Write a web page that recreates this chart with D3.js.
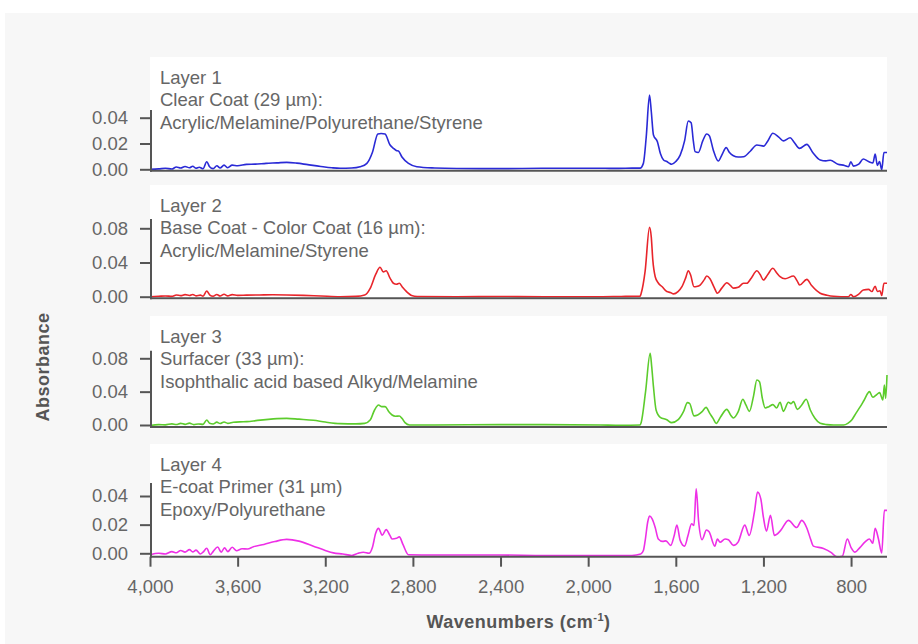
<!DOCTYPE html>
<html><head><meta charset="utf-8">
<script src="https://cdn.jsdelivr.net/npm/d3@7"></script>
<style>
html,body{margin:0;padding:0;background:#fff;}
svg{display:block;}
text{font-family:"Liberation Sans",Arial,sans-serif;}
</style></head>
<body>
<svg id="chart" width="918" height="644"></svg>
<script>
// ---- data ----
const xTicks = [4000, 3600, 3200, 2800, 2400, 2000, 1600, 1200, 800];
const layerTitles = ["Layer 1", "Layer 2", "Layer 3", "Layer 4"];
const layerCoats = ["Clear Coat (29 µm):", "Base Coat - Color Coat (16 µm):", "Surfacer (33 µm):", "E-coat Primer (31 µm)"];
const layerResins = ["Acrylic/Melamine/Polyurethane/Styrene", "Acrylic/Melamine/Styrene", "Isophthalic acid based Alkyd/Melamine", "Epoxy/Polyurethane"];
const yTicks1 = [0, 0.02, 0.04];
const yTicks2 = [0, 0.04, 0.08];
const yTicks3 = [0, 0.04, 0.08];
const yTicks4 = [0, 0.02, 0.04];

const layer1 = [[4000,0],[3960,0.0003],[3930,0.0008],[3900,0.0002],[3880,0.0018],[3860,0.001],[3840,0.0022],[3820,0.0012],[3805,0.0024],[3790,0.0008],[3775,0.0016],[3758,0.0004],[3741,0.0059],[3728,0.002],[3712,0.0005],[3695,0.0028],[3680,0.001],[3662,0.0032],[3645,0.0012],[3625,0.0032],[3600,0.0028],[3560,0.0038],[3520,0.004],[3470,0.0046],[3420,0.005],[3376,0.0054],[3330,0.0048],[3280,0.0036],[3220,0.0022],[3170,0.0012],[3132,0.0008],[3080,0.001],[3041,0.002],[3010,0.0046],[2985,0.013],[2960,0.0274],[2945,0.0278],[2927,0.0274],[2905,0.019],[2889,0.0163],[2876,0.0146],[2866,0.0142],[2850,0.0095],[2820,0.0046],[2782,0.002],[2700,0.001],[2600,0.0006],[2402,0.0005],[2200,0.0008],[1945,0.0008],[1860,0.0007],[1800,0.0009],[1763,0.0009],[1748,0.0046],[1735,0.025],[1720,0.0576],[1712,0.045],[1702,0.0266],[1684,0.0214],[1670,0.012],[1656,0.0072],[1641,0.006],[1630,0.0048],[1619,0.0039],[1600,0.006],[1580,0.011],[1560,0.022],[1543,0.0374],[1530,0.036],[1520,0.022],[1512,0.0137],[1497,0.013],[1477,0.022],[1459,0.0274],[1447,0.026],[1429,0.015],[1406,0.0064],[1390,0.011],[1370,0.0168],[1355,0.013],[1337,0.0105],[1315,0.0095],[1291,0.0097],[1260,0.014],[1230,0.0188],[1199,0.018],[1180,0.022],[1157,0.0279],[1130,0.025],[1109,0.022],[1078,0.0245],[1060,0.021],[1035,0.0162],[1002,0.0193],[975,0.013],[941,0.0072],[915,0.0065],[895,0.007],[860,0.004],[830,0.003],[812,0.002],[801,0.0058],[789,0.0025],[765,0.004],[744,0.008],[720,0.006],[700,0.005],[690,0.0118],[680,0.003],[670,0.006],[660,-0.0004],[650,0.013],[636,0.013]];

const layer2 = [[4000,0],[3960,0.0005],[3930,0.0009],[3900,0.0004],[3880,0.002],[3860,0.0012],[3840,0.0024],[3820,0.0014],[3805,0.0026],[3790,0.001],[3770,0.0018],[3758,0.0006],[3741,0.0067],[3728,0.0022],[3712,0.0006],[3695,0.0026],[3680,0.0008],[3662,0.0028],[3645,0.001],[3625,0.0024],[3600,0.0016],[3560,0.0018],[3500,0.002],[3440,0.0022],[3376,0.002],[3300,0.0015],[3220,0.0008],[3132,0],[3060,0.0004],[3020,0.002],[2995,0.0098],[2970,0.026],[2950,0.0344],[2935,0.029],[2922,0.0304],[2905,0.022],[2889,0.0157],[2875,0.0145],[2862,0.0157],[2850,0.012],[2836,0.0078],[2806,0.0014],[2780,0.0003],[2600,0],[2400,0.0002],[2200,0],[1945,0],[1850,0.0003],[1763,0.0005],[1758,0.004],[1740,0.03],[1720,0.0811],[1712,0.07],[1705,0.043],[1694,0.0234],[1680,0.016],[1662,0.0117],[1641,0.006],[1625,0.005],[1610,0.0033],[1590,0.006],[1572,0.0117],[1555,0.022],[1543,0.0304],[1532,0.025],[1517,0.0117],[1505,0.012],[1489,0.0136],[1470,0.02],[1459,0.0242],[1444,0.021],[1425,0.011],[1410,0.004],[1390,0.01],[1367,0.0164],[1350,0.013],[1337,0.01],[1315,0.011],[1291,0.0157],[1276,0.0157],[1255,0.022],[1230,0.0304],[1215,0.026],[1200,0.0195],[1180,0.026],[1157,0.0332],[1140,0.028],[1124,0.0234],[1101,0.021],[1063,0.0242],[1045,0.018],[1035,0.0136],[1002,0.0203],[980,0.013],[941,0.004],[910,0.0018],[880,0.0006],[812,0],[801,0.0025],[789,0],[765,0.003],[744,0.0079],[720,0.0086],[705,0.006],[690,0.0123],[680,0.006],[668,0.007],[660,0.0014],[650,0.0157],[636,0.0157]];

const layer3 = [[4000,-0.0005],[3960,0.0005],[3930,0.0002],[3900,0.0014],[3880,0.0006],[3860,0.002],[3840,0.0008],[3820,0.0022],[3800,0.0005],[3780,0.0012],[3758,0.0008],[3741,0.006],[3728,0.002],[3712,0.0012],[3695,0.0034],[3680,0.0018],[3662,0.0036],[3645,0.002],[3620,0.0032],[3590,0.0038],[3558,0.004],[3510,0.0055],[3460,0.0068],[3420,0.0076],[3376,0.008],[3320,0.007],[3254,0.0057],[3200,0.0035],[3132,0.0016],[3060,0.0014],[3020,0.002],[2995,0.006],[2975,0.018],[2957,0.024],[2942,0.022],[2927,0.022],[2910,0.016],[2895,0.012],[2880,0.0105],[2862,0.0108],[2850,0.008],[2836,0.0028],[2815,0],[2700,0],[2400,0.0005],[2200,0.0005],[1945,0],[1850,-0.0004],[1763,0],[1758,0.003],[1738,0.04],[1717,0.086],[1710,0.07],[1702,0.046],[1690,0.018],[1671,0.0092],[1641,0.0064],[1619,0.0028],[1589,0.0064],[1565,0.016],[1547,0.0268],[1537,0.026],[1517,0.011],[1500,0.012],[1480,0.016],[1462,0.0212],[1445,0.014],[1430,0.008],[1416,0.002],[1395,0.01],[1367,0.0188],[1350,0.012],[1337,0.0084],[1315,0.016],[1294,0.0308],[1280,0.024],[1264,0.0164],[1245,0.035],[1230,0.054],[1218,0.052],[1205,0.032],[1192,0.0204],[1175,0.022],[1157,0.0244],[1140,0.0204],[1124,0.0272],[1109,0.0164],[1086,0.0272],[1075,0.0256],[1063,0.028],[1045,0.0188],[1025,0.024],[1005,0.0308],[986,0.018],[965,0.008],[941,0.002],[910,0.0005],[880,0],[834,0],[815,0.002],[796,0.0064],[778,0.014],[758,0.022],[740,0.03],[716,0.04],[701,0.0332],[685,0.036],[670,0.0388],[655,0.03],[648,0.048],[642,0.032],[636,0.06]];

const layer4 = [[4000,-0.001],[3960,0],[3930,-0.0005],[3900,0.0012],[3880,0.0004],[3860,0.002],[3840,0.0008],[3820,0.0026],[3805,0.001],[3790,0.0022],[3770,-0.0005],[3758,0.0008],[3741,0.0035],[3725,-0.001],[3712,0.0012],[3691,0.0044],[3675,0.0008],[3660,0.0038],[3645,0.0012],[3625,0.0042],[3605,0.0018],[3580,0.0032],[3555,0.003],[3528,0.0046],[3480,0.0062],[3430,0.0082],[3376,0.0097],[3320,0.0085],[3254,0.005],[3200,0.002],[3163,0.0003],[3120,-0.0005],[3079,-0.0015],[3050,0],[3026,0.0007],[3000,0],[2985,0.004],[2970,0.014],[2957,0.0174],[2940,0.0127],[2922,0.0165],[2905,0.0125],[2895,0.01],[2875,0.0105],[2862,0.0115],[2845,0.006],[2820,-0.001],[2700,-0.0012],[2400,-0.0012],[2200,-0.0015],[1945,-0.0015],[1800,-0.0015],[1760,-0.0005],[1748,0.002],[1740,0.0087],[1728,0.022],[1720,0.026],[1708,0.024],[1694,0.018],[1680,0.01],[1660,0.0083],[1645,0.0087],[1623,0.0055],[1608,0.012],[1595,0.0197],[1580,0.009],[1560,0.005],[1545,0.012],[1528,0.0206],[1517,0.0195],[1507,0.045],[1496,0.0225],[1480,0.0095],[1460,0.0163],[1448,0.015],[1422,0.005],[1410,0.01],[1398,0.0077],[1375,0.01],[1360,0.0095],[1337,0.0055],[1315,0.008],[1285,0.0197],[1265,0.0125],[1240,0.03],[1227,0.0428],[1212,0.038],[1200,0.025],[1186,0.0155],[1168,0.0265],[1150,0.0125],[1122,0.0158],[1086,0.023],[1048,0.018],[1025,0.023],[1002,0.0177],[985,0.01],[972,0.005],[926,0.0034],[890,0.0005],[865,-0.0025],[840,-0.002],[817,0.01],[800,0.004],[782,0.0008],[760,0.004],[736,0.008],[716,0.01],[701,0.007],[690,0.0174],[675,0.01],[660,0.0003],[648,0.03],[636,0.03]];

const seriesData = [layer1, layer2, layer3, layer4];
const seriesColors = ["#2a2ad6", "#e8252b", "#5ccc2c", "#ee2fe6"];

// ---- layout ----
const W = 918, H = 644;
const plotLeft = 150, plotRight = 887;
const panels = [
  {boxTop: 57, boxBottom: 172, zeroY: 169.3, topTickY: 117.7, axisTop: 110, axisY: 170.7, ticks: yTicks1},
  {boxTop: 185, boxBottom: 300, zeroY: 296.7, topTickY: 228.3, axisTop: 219, axisY: 298.3, ticks: yTicks2},
  {boxTop: 316, boxBottom: 428.5, zeroY: 425, topTickY: 358.3, axisTop: 350.7, axisY: 427, ticks: yTicks3},
  {boxTop: 444, boxBottom: 558, zeroY: 553.3, topTickY: 496, axisTop: 483, axisY: 556.7, ticks: yTicks4}
];

const svg = d3.select("#chart");
svg.append("rect").attr("x", 5).attr("y", 13).attr("width", W - 5).attr("height", H - 13).attr("fill", "#f7f7f7");

const x = d3.scaleLinear().domain([4000, 636]).range([plotLeft, plotRight]);
const axisColor = "#555";
const textColor = "#666";

panels.forEach((p, i) => {
  const g = svg.append("g");
  g.append("rect").attr("x", plotLeft).attr("y", p.boxTop)
    .attr("width", plotRight - plotLeft).attr("height", p.boxBottom - p.boxTop).attr("fill", "#fff");

  const tmax = p.ticks[p.ticks.length - 1];
  const y = d3.scaleLinear().domain([0, tmax]).range([p.zeroY, p.topTickY]);

  // text
  const t = g.append("g").attr("fill", textColor).style("font-size", "18.5px");
  [layerTitles[i], layerCoats[i], layerResins[i]].forEach((s, k) => {
    t.append("text").attr("x", 160).attr("y", p.boxTop + 26.5 + k * 22.5).text(s);
  });

  // line
  const line = d3.line().x(d => x(d[0])).y(d => y(d[1])).curve(d3.curveMonotoneX);
  g.append("path").datum(seriesData[i]).attr("d", line)
    .attr("fill", "none").attr("stroke", seriesColors[i]).attr("stroke-width", 1.6)
    .attr("stroke-linejoin", "round");

  // y axis
  const yAxis = d3.axisLeft(y).tickValues(p.ticks).tickFormat(d3.format(".2f")).tickSize(11).tickPadding(12);
  const ya = g.append("g").attr("transform", `translate(${plotLeft + 1},0)`).call(yAxis);
  ya.select(".domain").remove();
  ya.selectAll(".tick line").attr("stroke", axisColor).attr("stroke-width", 2);
  ya.selectAll(".tick text").attr("fill", textColor).style("font-size", "18.5px")
    .style("font-family", '"Liberation Sans", Arial, sans-serif');
  g.append("line").attr("x1", plotLeft + 1).attr("x2", plotLeft + 1)
    .attr("y1", p.axisTop).attr("y2", p.axisY + 1).attr("stroke", axisColor).attr("stroke-width", 2);
  g.append("line").attr("x1", plotLeft).attr("x2", plotRight)
    .attr("y1", p.axisY).attr("y2", p.axisY).attr("stroke", axisColor).attr("stroke-width", 2);

  if (i === panels.length - 1) {
    const xAxis = d3.axisBottom(x).tickValues(xTicks).tickFormat(d3.format(",")).tickSize(10).tickPadding(13);
    const xa = g.append("g").attr("transform", `translate(0,${p.axisY})`).call(xAxis);
    xa.select(".domain").remove();
    xa.selectAll(".tick line").attr("stroke", axisColor).attr("stroke-width", 2);
    xa.selectAll(".tick text").attr("fill", textColor).style("font-size", "18.5px")
      .style("font-family", '"Liberation Sans", Arial, sans-serif');
  }
});

// axis titles
const xt = svg.append("text").attr("x", (plotLeft + plotRight) / 2).attr("y", 628)
  .attr("text-anchor", "middle").attr("fill", "#555").style("font-size", "18px").style("font-weight", "bold")
  .style("letter-spacing", "0.5px");
xt.append("tspan").text("Wavenumbers (cm");
xt.append("tspan").attr("dy", -7).style("font-size", "11px").text("-1");
xt.append("tspan").attr("dy", 7).text(")");

svg.append("text").attr("transform", "translate(49,367) rotate(-90)")
  .attr("text-anchor", "middle").attr("fill", "#555").style("font-size", "18px").style("font-weight", "bold")
  .style("letter-spacing", "0.5px").text("Absorbance");
</script>
</body></html>
